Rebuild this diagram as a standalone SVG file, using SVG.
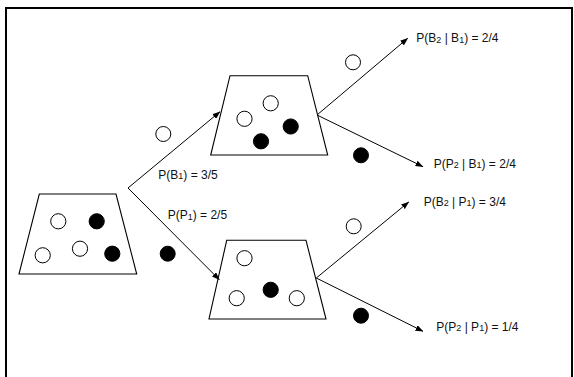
<svg xmlns="http://www.w3.org/2000/svg" width="574" height="377" viewBox="0 0 574 377">
<style>
.tr{fill:#fff;stroke:#000;stroke-width:1.1}
.w{fill:#fff;stroke:#000;stroke-width:1}
.b{fill:#000;stroke:#000;stroke-width:1}
.c{fill:none;stroke:#000;stroke-width:1}
text{font-family:"Liberation Sans",Arial,sans-serif;font-size:12px;fill:#111}
.s{font-size:9px}
</style>
<defs>
<marker id="ah" markerWidth="8" markerHeight="6" refX="7.5" refY="3" orient="auto" markerUnits="userSpaceOnUse">
<path d="M0,0 L8,3 L0,6 Z" fill="#000"/>
</marker>
</defs>
<rect x="0" y="0" width="574" height="377" fill="#fff"/>
<rect x="6" y="8" width="566" height="380" fill="none" stroke="#000" stroke-width="2"/>

<g id="urn0">
<polygon class="tr" points="39.3,194 116,194 136.7,274 19,274"/>
<circle class="w" cx="58.3" cy="221.3" r="7.6"/>
<circle class="b" cx="96.7" cy="221.3" r="7.6"/>
<circle class="w" cx="42.7" cy="255.3" r="7.6"/>
<circle class="w" cx="80" cy="248.7" r="7.6"/>
<circle class="b" cx="112.3" cy="253.7" r="7.6"/>
</g>

<g id="urnB1">
<polygon class="tr" points="230,75.7 307.7,75.7 327.7,155 210.7,155"/>
<circle class="w" cx="270.7" cy="103.3" r="7.6"/>
<circle class="w" cx="244.5" cy="118.8" r="7.6"/>
<circle class="b" cx="290.7" cy="126.5" r="7.6"/>
<circle class="b" cx="261" cy="141.3" r="7.6"/>
</g>

<g id="urnP1">
<polygon class="tr" points="226.7,240.3 306,240.3 326,319 209,319"/>
<circle class="w" cx="244.5" cy="258.2" r="7.6"/>
<circle class="b" cx="270.7" cy="289.8" r="7.6"/>
<circle class="w" cx="236.7" cy="298.2" r="7.6"/>
<circle class="w" cx="296.8" cy="298.2" r="7.6"/>
</g>

<g id="balls">
<circle class="w" cx="163.3" cy="134" r="7.5"/>
<circle class="b" cx="167.7" cy="253.7" r="7.5"/>
<circle class="w" cx="353" cy="62.3" r="7.5"/>
<circle class="b" cx="361" cy="155.3" r="7.5"/>
<circle class="w" cx="353.7" cy="226.3" r="7.5"/>
<circle class="b" cx="361" cy="315.7" r="7.5"/>
</g>

<g id="connectors">
<line class="c" x1="128" y1="188" x2="220" y2="111.7" marker-end="url(#ah)"/>
<line class="c" x1="128" y1="188" x2="219.3" y2="279.7" marker-end="url(#ah)"/>
<line class="c" x1="317" y1="115" x2="407.7" y2="38.3" marker-end="url(#ah)"/>
<line class="c" x1="317" y1="115" x2="423" y2="166.7" marker-end="url(#ah)"/>
<line class="c" x1="316.3" y1="278" x2="408.7" y2="202" marker-end="url(#ah)"/>
<line class="c" x1="316.3" y1="278" x2="423" y2="331.3" marker-end="url(#ah)"/>
</g>

<g id="labels">
<text x="158.3" y="178.5">P(B<tspan class="s" dy="0.5">1</tspan><tspan dy="-0.5">) = 3/5</tspan></text>
<text x="167.7" y="219">P(P<tspan class="s" dy="0.5">1</tspan><tspan dy="-0.5">) = 2/5</tspan></text>
<text x="416.3" y="42">P(B<tspan class="s" dy="0.5">2</tspan><tspan dy="-0.5"> | B</tspan><tspan class="s" dy="0.5">1</tspan><tspan dy="-0.5">) = 2/4</tspan></text>
<text x="433.7" y="167.5">P(P<tspan class="s" dy="0.5">2</tspan><tspan dy="-0.5"> | B</tspan><tspan class="s" dy="0.5">1</tspan><tspan dy="-0.5">) = 2/4</tspan></text>
<text x="423.7" y="205.5">P(B<tspan class="s" dy="0.5">2</tspan><tspan dy="-0.5"> | P</tspan><tspan class="s" dy="0.5">1</tspan><tspan dy="-0.5">) = 3/4</tspan></text>
<text x="436.3" y="330.5">P(P<tspan class="s" dy="0.5">2</tspan><tspan dy="-0.5"> | P</tspan><tspan class="s" dy="0.5">1</tspan><tspan dy="-0.5">) = 1/4</tspan></text>
</g>
</svg>
